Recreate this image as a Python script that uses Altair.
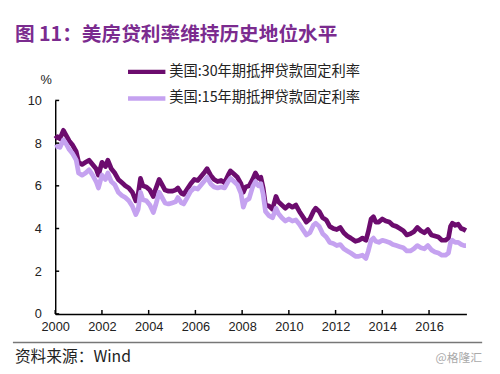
import altair as alt
import pandas as pd

# ---- data ----
t = [2000.00, 2000.10, 2000.20, 2000.35, 2000.45, 2000.60, 2000.75, 2000.90,
     2001.00, 2001.15, 2001.30, 2001.45, 2001.60, 2001.75, 2001.85,
     2002.00, 2002.15, 2002.25, 2002.40, 2002.55, 2002.70, 2002.85,
     2003.00, 2003.15, 2003.30, 2003.45, 2003.55, 2003.65, 2003.75, 2003.90,
     2004.05, 2004.20, 2004.30, 2004.45, 2004.55, 2004.70, 2004.85,
     2005.00, 2005.15, 2005.25, 2005.40, 2005.50, 2005.65, 2005.80, 2005.95,
     2006.10, 2006.25, 2006.40, 2006.50, 2006.65, 2006.80, 2006.95,
     2007.10, 2007.25, 2007.40, 2007.50, 2007.65, 2007.80, 2007.95,
     2008.05, 2008.15, 2008.30, 2008.45, 2008.57, 2008.70, 2008.80, 2008.90,
     2009.00, 2009.15, 2009.30, 2009.45, 2009.55, 2009.70, 2009.85,
     2010.00, 2010.15, 2010.30, 2010.45, 2010.60, 2010.75, 2010.90,
     2011.05, 2011.15, 2011.30, 2011.45, 2011.60, 2011.75, 2011.90,
     2012.05, 2012.20, 2012.35, 2012.50, 2012.65, 2012.85,
     2013.00, 2013.15, 2013.30, 2013.40, 2013.52, 2013.62, 2013.72, 2013.85,
     2014.00, 2014.15, 2014.30, 2014.45, 2014.60, 2014.75, 2014.90,
     2015.05, 2015.20, 2015.35, 2015.50, 2015.65, 2015.80, 2015.95,
     2016.10, 2016.25, 2016.40, 2016.55, 2016.70, 2016.83, 2016.92,
     2017.00, 2017.12, 2017.25, 2017.38, 2017.50, 2017.58]

rate30 = [8.2, 8.3, 8.2, 8.6, 8.4, 8.1, 7.9, 7.6,
          7.1, 7.0, 7.1, 7.2, 7.0, 6.8, 6.5,
          7.1, 6.9, 7.2, 6.8, 6.6, 6.3, 6.15,
          6.0, 5.9, 5.7, 5.3, 5.6, 6.35, 6.0, 5.95,
          5.8, 5.5, 5.85, 6.3, 6.1, 5.8, 5.75,
          5.75, 5.8, 5.9, 5.65, 5.6, 5.85, 6.1, 6.3,
          6.25, 6.45, 6.65, 6.8, 6.5, 6.3, 6.2,
          6.25, 6.15, 6.5, 6.7, 6.55, 6.4, 6.1,
          5.7, 5.95, 6.0, 6.3, 6.6, 6.35, 6.4, 5.9,
          5.1, 5.05, 4.9, 5.5, 5.25, 5.1, 4.95,
          5.1, 5.0, 5.1, 4.8, 4.55, 4.3, 4.45,
          4.8, 4.95, 4.8, 4.5, 4.4, 4.1, 4.0,
          3.95, 4.05, 3.8, 3.65, 3.55, 3.4,
          3.45, 3.55, 3.45, 3.85, 4.45, 4.55, 4.3, 4.3,
          4.45, 4.35, 4.3, 4.15, 4.1, 4.0, 3.9,
          3.7, 3.75, 3.85, 4.05, 3.9, 3.8, 3.95,
          3.7, 3.65, 3.6, 3.45, 3.45, 3.55, 4.1,
          4.25, 4.15, 4.2, 4.0, 3.95, 3.9]

rate15 = [7.8, 7.85, 7.8, 8.15, 8.0, 7.7, 7.5, 7.2,
          6.6, 6.5, 6.6, 6.75, 6.5, 6.2, 5.9,
          6.5, 6.3, 6.6, 6.2, 6.05, 5.7, 5.55,
          5.45, 5.3, 5.05, 4.65, 4.9, 5.7, 5.35, 5.3,
          5.1, 4.75, 5.1, 5.7, 5.5, 5.2, 5.15,
          5.2, 5.25, 5.45, 5.2, 5.15, 5.45, 5.75, 5.9,
          5.85, 6.05, 6.25, 6.4, 6.1, 5.95, 5.9,
          5.95, 5.9, 6.2, 6.35, 6.2, 6.05, 5.65,
          5.0, 5.3, 5.4, 5.95, 6.2, 6.0, 6.1, 5.6,
          4.8, 4.6, 4.5, 4.95, 4.7, 4.5, 4.35,
          4.45, 4.35, 4.4, 4.2, 3.95, 3.7, 3.8,
          4.15, 4.25, 4.1, 3.75, 3.6, 3.35, 3.3,
          3.2, 3.25, 3.05, 2.95, 2.85, 2.7,
          2.7, 2.75, 2.6, 2.95, 3.45, 3.55, 3.4, 3.35,
          3.45, 3.4, 3.35, 3.25, 3.2, 3.15, 3.1,
          2.95, 2.95, 3.05, 3.2, 3.1, 3.05, 3.2,
          3.0, 2.9, 2.85, 2.75, 2.75, 2.85, 3.35,
          3.45, 3.35, 3.35, 3.25, 3.2, 3.2]

series_names = ["美国:30年期抵押贷款固定利率", "美国:15年期抵押贷款固定利率"]
x_ticks = [2000, 2002, 2004, 2006, 2008, 2010, 2012, 2014, 2016]
y_ticks = [0, 2, 4, 6, 8, 10]
title_text = "图 11：美房贷利率维持历史地位水平"
source_text = "资料来源：Wind"
watermark_text = "@格隆汇"

# ---- styling ----
DARK = "#6c0c6e"
LIGHT = "#c5a2f0"
TITLE_C = "#7b2b8f"
W, H = 418, 217

df = pd.DataFrame({
    "t": t * 2,
    "v": rate30 + rate15,
    "s": [series_names[0]] * len(t) + [series_names[1]] * len(t),
    "o": [1] * len(t) + [0] * len(t),
})

xscale = alt.Scale(domain=[2000, 2017.6], nice=False, zero=False)
yscale = alt.Scale(domain=[0, 10], nice=False)
xaxis = alt.Axis(values=x_ticks, format="d", title=None, ticks=False, grid=False,
                 domainColor="black", domainWidth=1.5, labelFontSize=13,
                 labelColor="#222", labelFont="Liberation Sans", labelPadding=7,
                 labelFlush=False, labelOverlap=False)
yaxis = alt.Axis(values=y_ticks, title=None, ticks=False, grid=False,
                 domainColor="black", domainWidth=1.5, labelFontSize=13,
                 labelColor="#222", labelFont="Liberation Sans", labelPadding=14,
                 labelFlush=False, labelOverlap=False)

lines = alt.Chart(df).mark_line(strokeWidth=4.8, strokeJoin="round").encode(
    x=alt.X("t:Q", scale=xscale, axis=xaxis),
    y=alt.Y("v:Q", scale=yscale, axis=yaxis),
    color=alt.Color("s:N", scale=alt.Scale(domain=series_names, range=[DARK, LIGHT]), legend=None),
    order=alt.Order("o:Q"),
    detail="s:N",
)

xt = alt.Chart(pd.DataFrame({"v": x_ticks})).mark_rule(color="black", strokeWidth=1.5).encode(
    x=alt.X("v:Q", scale=xscale, axis=xaxis),
    y=alt.value(H), y2=alt.value(H - 4),
)
yt = alt.Chart(pd.DataFrame({"v": y_ticks})).mark_rule(color="black", strokeWidth=1.5).encode(
    y=alt.Y("v:Q", scale=yscale, axis=yaxis),
    x=alt.value(0), x2=alt.value(4),
)

one = pd.DataFrame({"a": [0]})


def txt(text, x, y, size, color, align="left", weight="normal", font="Liberation Sans"):
    return alt.Chart(one).mark_text(text=text, align=align, baseline="middle", fontSize=size,
                                    color=color, fontWeight=weight, font=font).encode(
        x=alt.value(x), y=alt.value(y))


def hline(x1, x2, y, color, width):
    return alt.Chart(one).mark_rule(color=color, strokeWidth=width).encode(
        x=alt.value(x1), x2=alt.value(x2), y=alt.value(y))


title = txt(title_text, -41, -66, 20, TITLE_C, weight="bold", font="Noto Sans CJK SC")
leg1 = hline(74, 112, -29, DARK, 4.5)
leg2 = hline(74, 112, -2, LIGHT, 4.5)
legt1 = txt(series_names[0], 116, -29, 14.5, "#222", font="Noto Sans CJK SC")
legt2 = txt(series_names[1], 116, -2, 14.5, "#222", font="Noto Sans CJK SC")
pct = txt("%", -15, -21, 13, "#222")
bottom = hline(-43, 434, 246, "#777", 1.5)
source = txt(source_text, -41, 261, 16, "#222", font="Noto Sans CJK SC")
wm = txt(watermark_text, 434, 262, 12, "#aaa", align="right", font="Noto Sans CJK SC")

chart = alt.layer(lines, xt, yt, title, leg1, leg2, legt1, legt2, pct, bottom, source, wm).properties(
    width=W, height=H,
    autosize=alt.AutoSizeParams(type="none"),
    padding={"left": 48, "top": 91, "right": 26, "bottom": 50},
    background="white",
).configure_view(stroke=None)

chart.save("out.html", embed_options={"renderer": "svg", "actions": False})
